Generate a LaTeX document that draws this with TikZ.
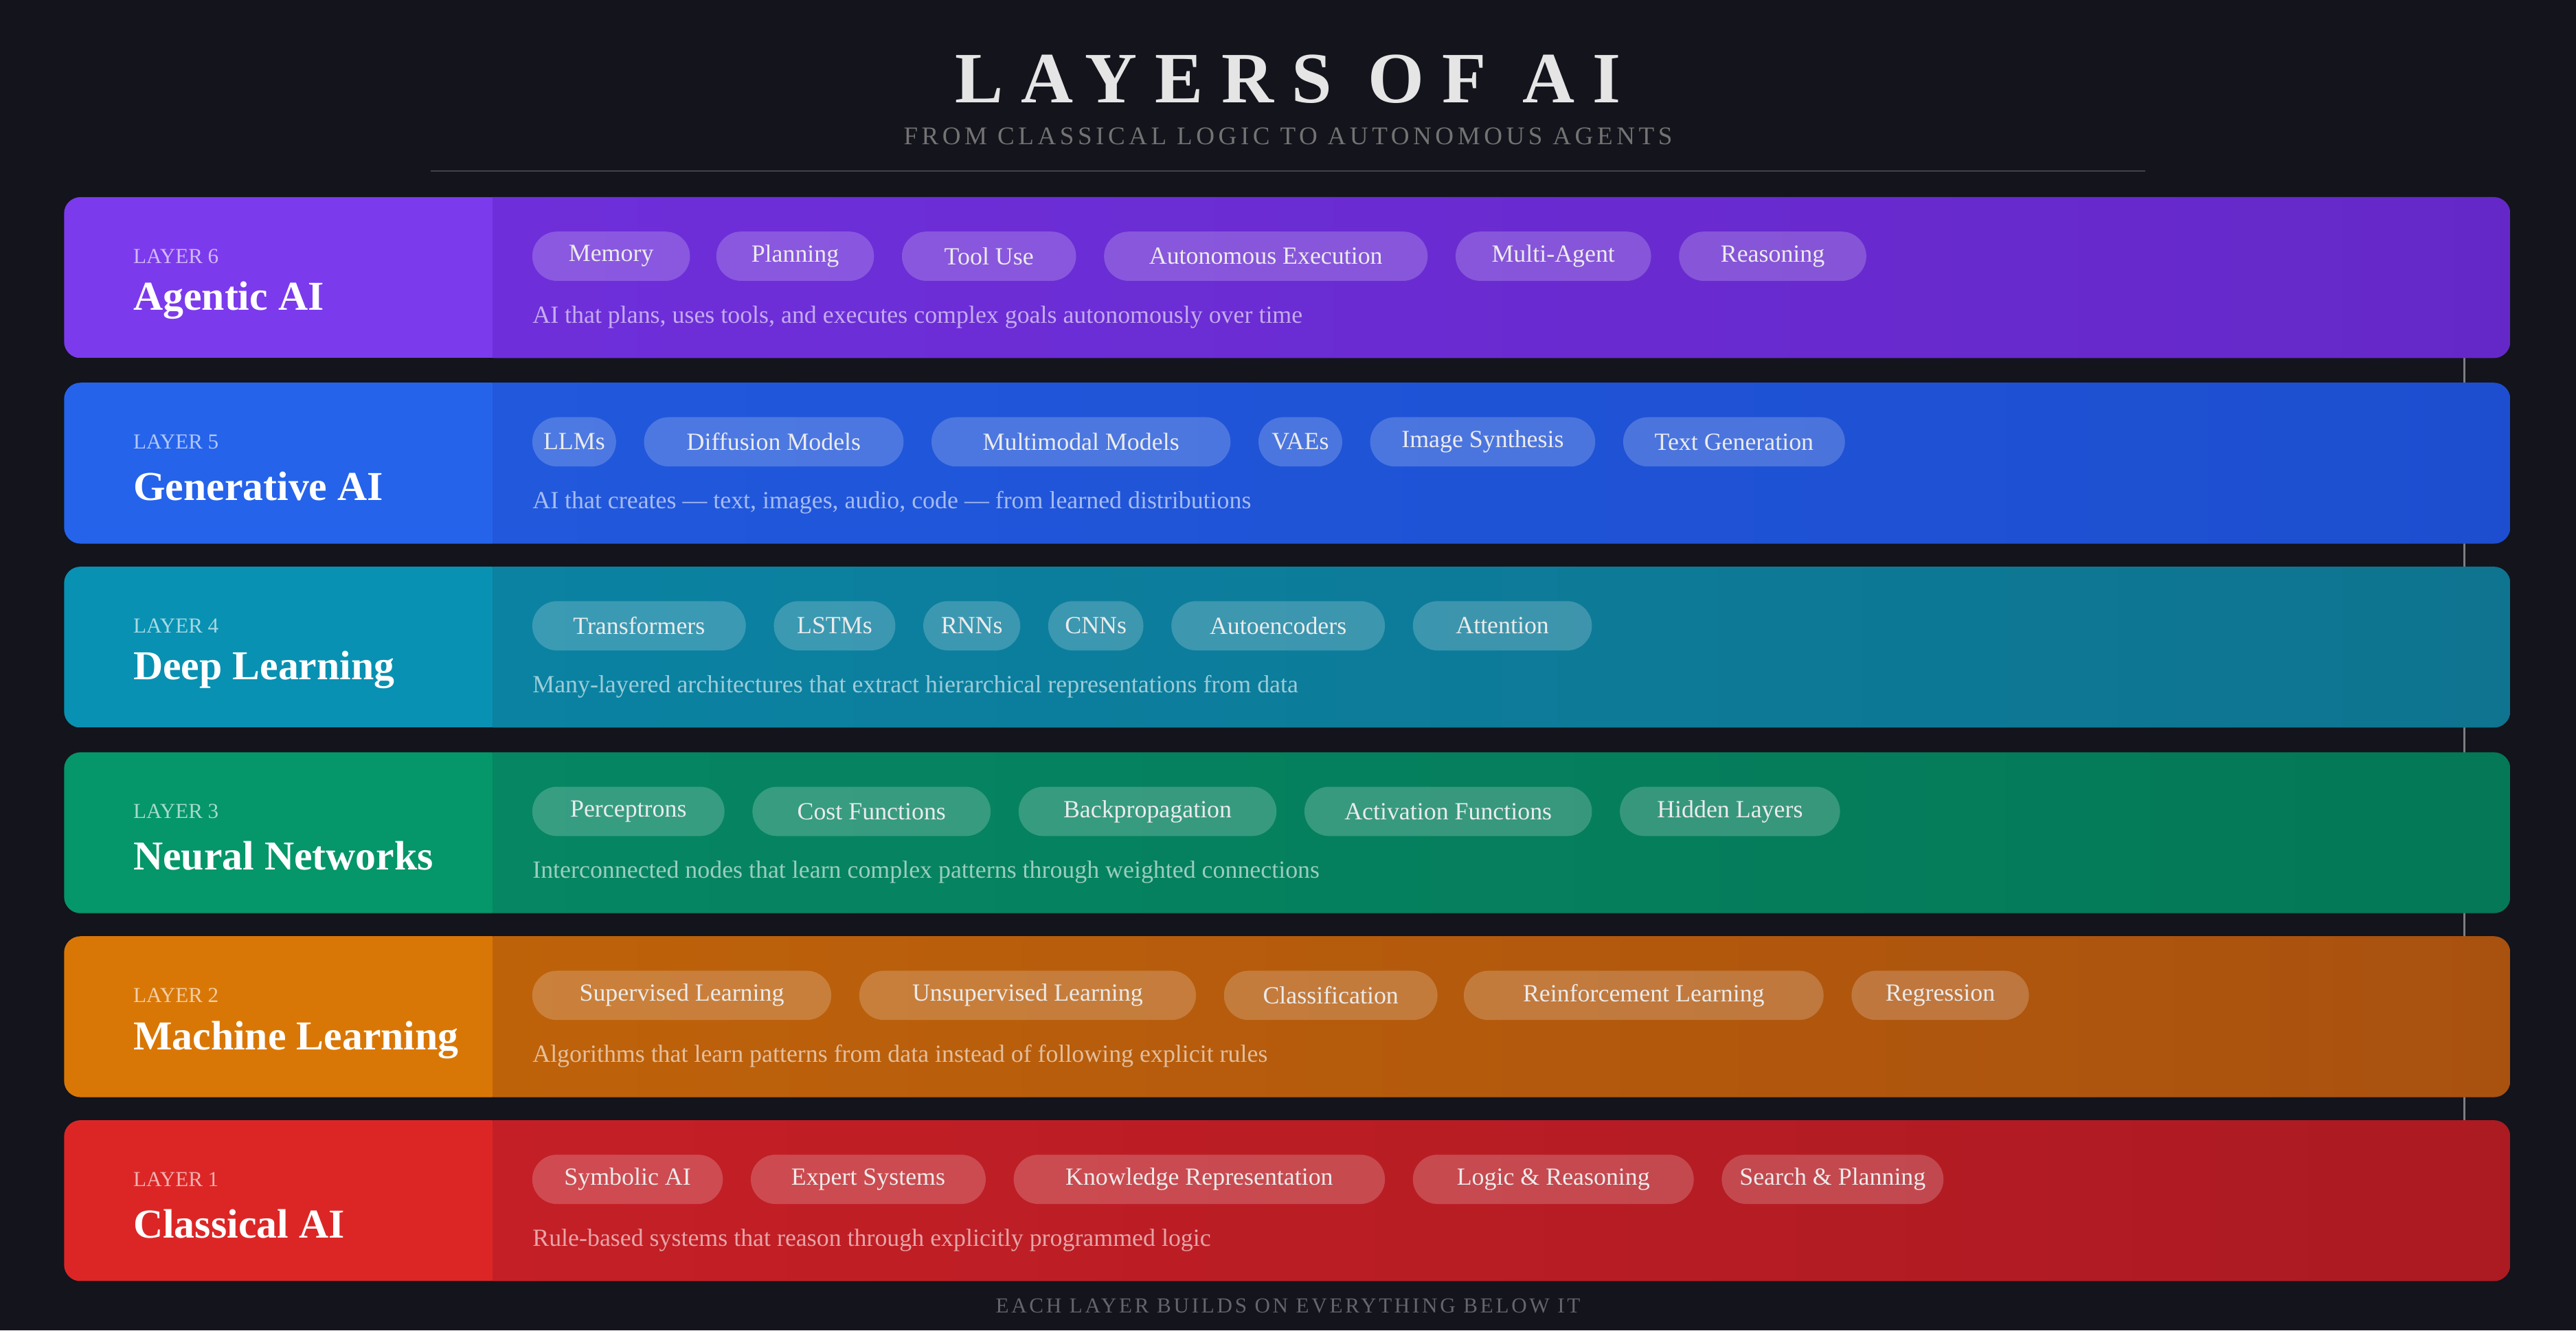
\documentclass[tikz,border=0pt]{standalone}
\usepackage{fontspec}
\setmainfont{Liberation Serif}
\usetikzlibrary{shapes.misc}
\definecolor{bg}{HTML}{13141C}
\definecolor{l6a}{HTML}{7C3AED}\definecolor{l6b}{HTML}{6E2FDA}\definecolor{l6c}{HTML}{6528C8}
\definecolor{l5a}{HTML}{2563EB}\definecolor{l5b}{HTML}{2158DC}\definecolor{l5c}{HTML}{1D4ED0}
\definecolor{l4a}{HTML}{0891B2}\definecolor{l4b}{HTML}{0B82A2}\definecolor{l4c}{HTML}{0E7490}
\definecolor{l3a}{HTML}{059669}\definecolor{l3b}{HTML}{068663}\definecolor{l3c}{HTML}{047857}
\definecolor{l2a}{HTML}{D97706}\definecolor{l2b}{HTML}{BE620A}\definecolor{l2c}{HTML}{A9510F}
\definecolor{l1a}{HTML}{DC2626}\definecolor{l1b}{HTML}{C41F26}\definecolor{l1c}{HTML}{AC1A22}
\tikzset{
 pill/.style={fill=white,fill opacity=0.2,text opacity=1,text=white!92!black,rounded corners=15pt,minimum height=30pt,inner sep=0pt,font=\fontsize{15}{15}\selectfont},
 desc/.style={anchor=west,text=white,text opacity=0.6,font=\fontsize{15}{15}\selectfont,inner sep=0pt},
 lnum/.style={anchor=west,text=white,text opacity=0.65,font=\fontsize{13}{13}\selectfont,inner sep=0pt},
 ltitle/.style={anchor=west,text=white,font=\fontsize{25}{25}\selectfont\bfseries,inner sep=0pt},
}
\newcommand\layerband[8]{% n top colA colB colC title desc
 \begin{scope}
 \path[clip,rounded corners=10pt] (39,#2) rectangle (1528,#2+98);
 \shade[left color=#4,right color=#5] (300,#2) rectangle (1528,#2+98);
 \fill[#3] (39,#2) rectangle (300,#2+98);
 \end{scope}
 \node[lnum] (n#1) at (81,#2+36) {LAYER #1};
 \node[ltitle] (t#1) at (81,#2+63) {#6};
 \node[desc] (d#1) at (324,#2+73) {#7};
 \foreach \a/\b/\t [count=\i] in {#8}
   \node[pill,minimum width={(\b-\a)*1pt}] (p#1\i) at ({(\a+\b)/2},#2+36) {\t};
}
\begin{document}
\begin{tikzpicture}[x=1pt,y=-1pt]
\fill[bg] (0,0) rectangle (1568,810);
\useasboundingbox (0,0) rectangle (1568,810);
\node[text=white!90!black,font=\fontsize{44}{44}\selectfont\bfseries\addfontfeature{LetterSpace=25}] (title) at (784,48) {LAYERS OF AI};
\node[text=white!45!black,font=\fontsize{15.5}{16}\selectfont\addfontfeature{LetterSpace=15}] (sub) at (784,83) {FROM CLASSICAL LOGIC TO AUTONOMOUS AGENTS};
\coordinate (la) at (262,104); \coordinate (lb) at (1306,104);
\draw[white!20!bg,line width=0.8pt] (la) -- (lb);
\coordinate (va) at (1500,120); \coordinate (vb) at (1500,780);
\draw[white!45!bg,line width=1pt] (va) -- (vb);
\layerband{6}{120}{l6a}{l6b}{l6c}{Agentic AI}{AI that plans, uses tools, and executes complex goals autonomously over time}
 {324/420/Memory,436/532/Planning,549/655/Tool Use,672/869/Autonomous Execution,886/1005/Multi-Agent,1022/1136/Reasoning}
\layerband{5}{233}{l5a}{l5b}{l5c}{Generative AI}{AI that creates — text, images, audio, code — from learned distributions}
 {324/375/LLMs,392/550/Diffusion Models,567/749/Multimodal Models,766/817/VAEs,834/971/Image Synthesis,988/1123/Text Generation}
\layerband{4}{345}{l4a}{l4b}{l4c}{Deep Learning}{Many-layered architectures that extract hierarchical representations from data}
 {324/454/Transformers,471/545/LSTMs,562/621/RNNs,638/696/CNNs,713/843/Autoencoders,860/969/Attention}
\layerband{3}{458}{l3a}{l3b}{l3c}{Neural Networks}{Interconnected nodes that learn complex patterns through weighted connections}
 {324/441/Perceptrons,458/603/Cost Functions,620/777/Backpropagation,794/969/Activation Functions,986/1120/Hidden Layers}
\layerband{2}{570}{l2a}{l2b}{l2c}{Machine Learning}{Algorithms that learn patterns from data instead of following explicit rules}
 {324/506/Supervised Learning,523/728/Unsupervised Learning,745/875/Classification,891/1110/Reinforcement Learning,1127/1235/Regression}
\layerband{1}{682}{l1a}{l1b}{l1c}{Classical AI}{Rule-based systems that reason through explicitly programmed logic}
 {324/440/Symbolic AI,457/600/Expert Systems,617/843/Knowledge Representation,860/1031/Logic \& Reasoning,1048/1183/Search \& Planning}
\node[text=white!35!bg,font=\fontsize{13}{13}\selectfont\addfontfeature{LetterSpace=12}] (foot) at (784,795) {EACH LAYER BUILDS ON EVERYTHING BELOW IT};
\end{tikzpicture}
\end{document}
